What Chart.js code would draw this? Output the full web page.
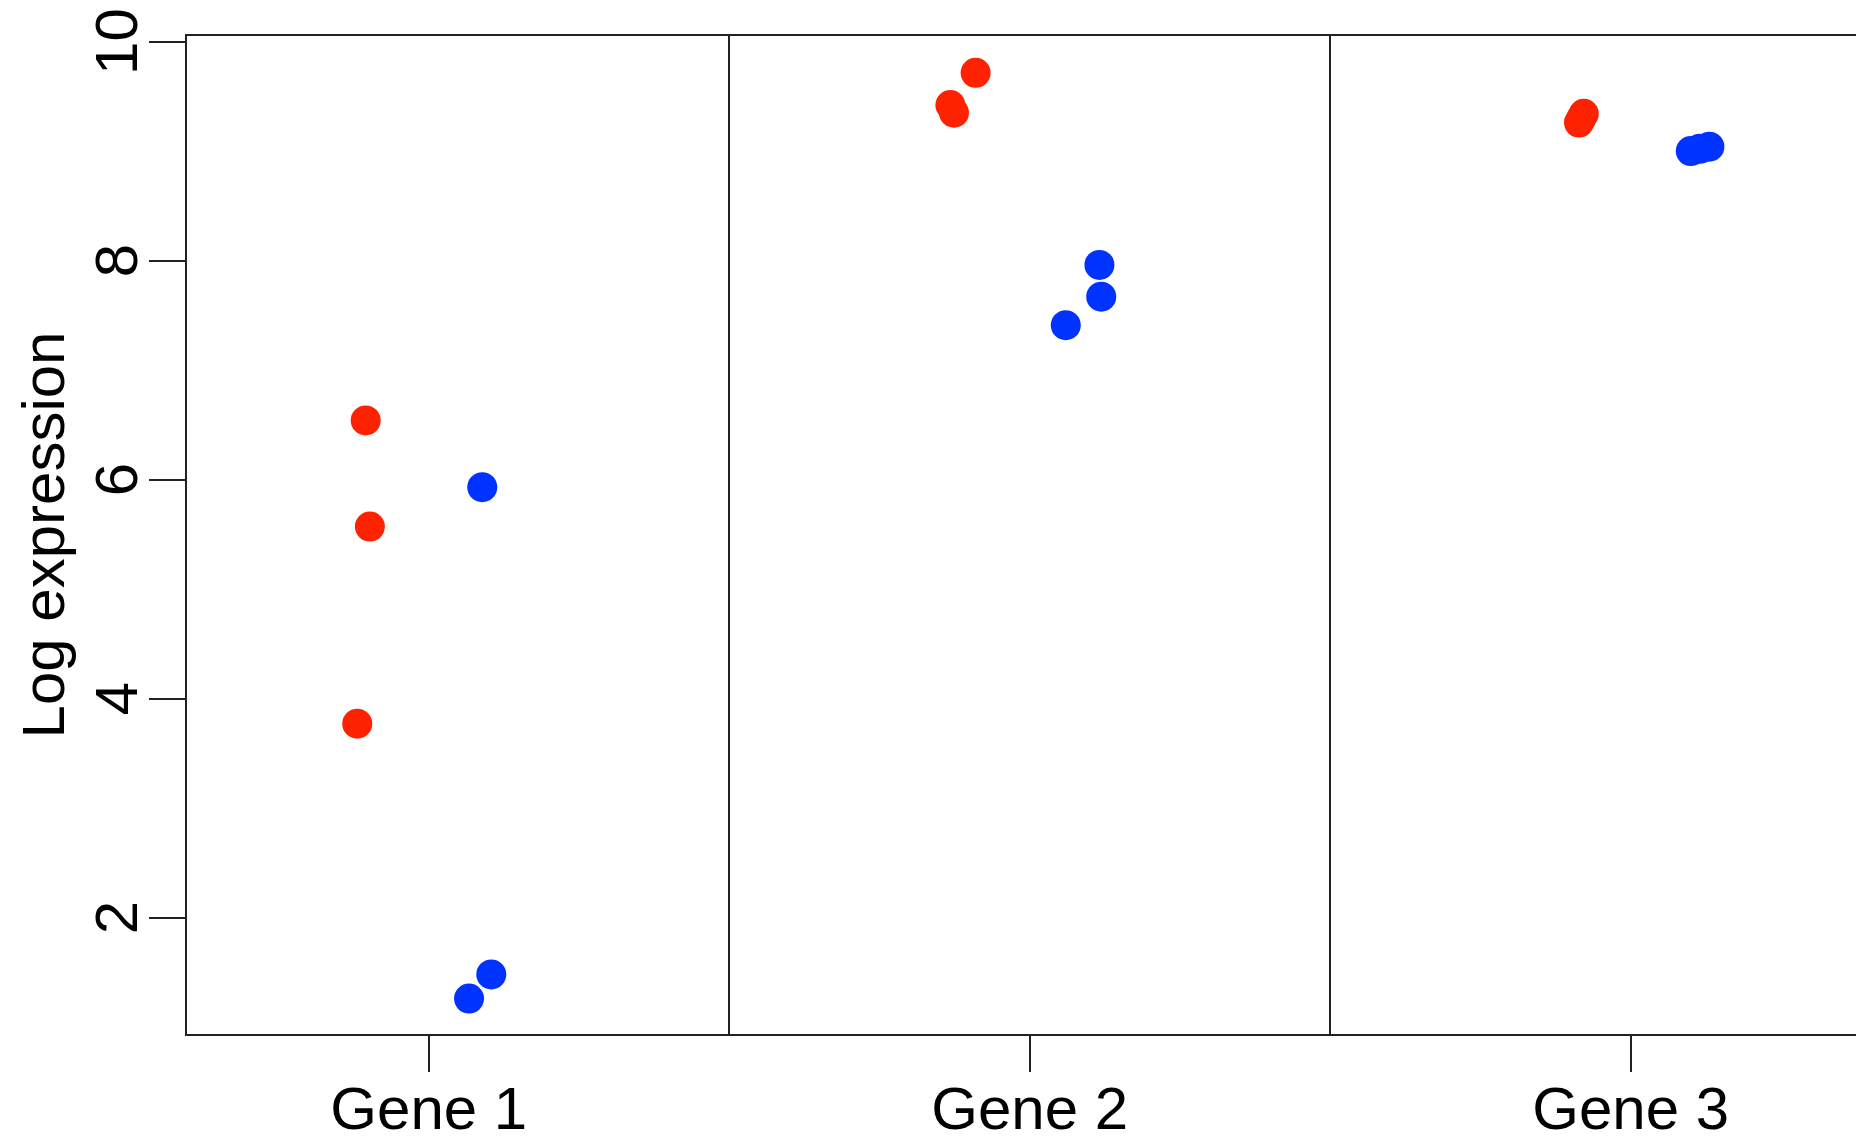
<!DOCTYPE html>
<html>
<head>
<meta charset="utf-8">
<title>Log expression by gene</title>
<script src="https://cdn.jsdelivr.net/npm/chart.js@4"></script>
<style>
  html, body { margin: 0; padding: 0; background: #ffffff; overflow: hidden; }
  canvas { display: block; }
</style>
</head>
<body>
<canvas id="chart" width="1856" height="1139"></canvas>
<script>
// Categories and axis ticks
const genes = ['Gene 1', 'Gene 2', 'Gene 3'];
const genePositions = [1, 2, 3];
const yTickValues = [2, 4, 6, 8, 10];
const groupBreaks = [1.5, 2.5];

// Red group: jittered x position and log expression
const redPos  = [0.895, 0.902, 0.881, 1.910, 1.868, 1.874, 2.922, 2.914, 2.918];
const redExpr = [6.54, 5.57, 3.77, 9.715, 9.42, 9.35, 9.34, 9.26, 9.30];

// Blue group: jittered x position and log expression
const bluePos  = [1.089, 1.104, 1.067, 2.116, 2.119, 2.060, 3.131, 3.100, 3.115];
const blueExpr = [5.93, 1.48, 1.26, 7.96, 7.67, 7.41, 9.04, 9.00, 9.02];

const FONT = '"Liberation Sans", Arial, Helvetica, sans-serif';
const FONT_SIZE = 60;
const INK = '#222222';
const TICK_LEN = 37;

const toPoints = (xs, ys) => xs.map((v, i) => ({ x: v, y: ys[i] }));

// Box top edge, gene separators, rotated y tick labels and y title
const framePlugin = {
  id: 'frame',
  beforeDatasetsDraw(chart) {
    const { ctx, chartArea: a, scales: { x } } = chart;
    ctx.save();
    ctx.strokeStyle = INK;
    ctx.lineWidth = 2;
    ctx.beginPath();
    ctx.moveTo(a.left - 1, a.top);
    ctx.lineTo(a.right, a.top);
    groupBreaks.forEach(b => {
      const px = Math.round(x.getPixelForValue(b));
      ctx.moveTo(px, a.top);
      ctx.lineTo(px, a.bottom);
    });
    ctx.stroke();
    ctx.restore();
  },
  afterDraw(chart) {
    const { ctx, chartArea: a, scales: { y } } = chart;
    ctx.save();
    ctx.fillStyle = '#000000';
    ctx.font = FONT_SIZE + 'px ' + FONT;
    ctx.textAlign = 'center';
    ctx.textBaseline = 'alphabetic';
    const labelBase = a.left - TICK_LEN - 12;
    yTickValues.forEach(v => {
      const py = y.getPixelForValue(v);
      ctx.save();
      ctx.translate(labelBase, py);
      ctx.rotate(-Math.PI / 2);
      ctx.fillText(String(v), 0, 0);
      ctx.restore();
    });
    ctx.save();
    ctx.translate(63.5, (a.top + a.bottom) / 2);
    ctx.rotate(-Math.PI / 2);
    ctx.fillText('Log expression', 0, 0);
    ctx.restore();
    ctx.restore();
  }
};

new Chart(document.getElementById('chart'), {
  type: 'scatter',
  data: {
    datasets: [
      {
        label: 'Red',
        data: toPoints(redPos, redExpr),
        backgroundColor: '#ff2200',
        borderWidth: 0,
        pointRadius: 15,
        pointHoverRadius: 15
      },
      {
        label: 'Blue',
        data: toPoints(bluePos, blueExpr),
        backgroundColor: '#0033ff',
        borderWidth: 0,
        pointRadius: 15,
        pointHoverRadius: 15
      }
    ]
  },
  options: {
    responsive: false,
    devicePixelRatio: 1,
    animation: false,
    layout: { autoPadding: false, padding: { top: 35, right: 0, left: 0, bottom: 0 } },
    plugins: {
      legend: { display: false },
      tooltip: { enabled: false }
    },
    scales: {
      x: {
        type: 'linear',
        min: 0.596,
        max: 3.375,
        afterBuildTicks: s => { s.ticks = genePositions.map(v => ({ value: v })); },
        afterFit: s => { s.height = 104; s.paddingLeft = 0; s.paddingRight = 0; },
        ticks: {
          color: '#000000',
          font: { family: FONT, size: FONT_SIZE },
          padding: 4,
          maxRotation: 0,
          minRotation: 0,
          callback: (v) => genes[genePositions.indexOf(v)]
        },
        grid: {
          drawOnChartArea: false,
          drawTicks: true,
          tickLength: TICK_LEN,
          color: INK,
          lineWidth: 2
        },
        border: { display: true, color: INK, width: 2 }
      },
      y: {
        type: 'linear',
        min: 0.927,
        max: 10.06,
        afterBuildTicks: s => { s.ticks = yTickValues.map(v => ({ value: v })); },
        afterFit: s => { s.width = 186; s.paddingTop = 0; s.paddingBottom = 0; },
        ticks: { display: false },
        grid: {
          drawOnChartArea: false,
          drawTicks: true,
          tickLength: TICK_LEN,
          color: INK,
          lineWidth: 2
        },
        border: { display: true, color: INK, width: 2 }
      }
    }
  },
  plugins: [framePlugin]
});
</script>
</body>
</html>
